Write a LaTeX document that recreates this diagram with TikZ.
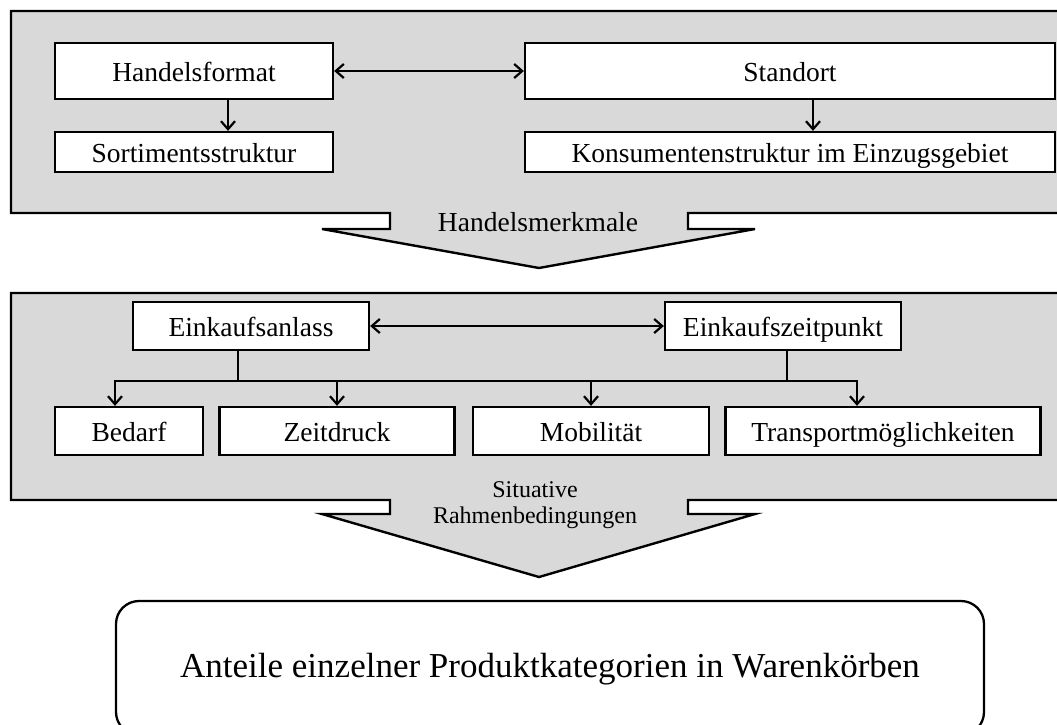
\documentclass[tikz,border=0pt]{standalone}
\usepackage{fontspec}
\setmainfont{Liberation Serif}
\usetikzlibrary{arrows.meta}
\definecolor{panelgray}{HTML}{D9D9D9}
\tikzset{
  box/.style={draw, fill=white, line width=2.3pt, inner sep=0pt,
    text height=23pt, text depth=3pt,
    font=\fontsize{27.5}{30}\selectfont},
  panel/.style={draw, fill=panelgray, line width=2.4pt},
  conn/.style={line width=2.2pt},
  arr/.style={conn, -{Straight Barb[length=8pt,width=14pt]}},
  dblarr/.style={conn, {Straight Barb[length=8pt,width=14pt]}-{Straight Barb[length=8pt,width=14pt]}}
}

\begin{document}
\begin{tikzpicture}[x=1pt, y=-1pt]
	\useasboundingbox (0,0) rectangle (1057,724);
	% Handelsmerkmale
	\draw[panel] (11,11) -- (1080,11) -- (1080,213) -- (688,213) -- (688,229) -- (755,229)
		-- (539,268) -- (322,229) -- (390,229) -- (390,213) -- (11,213) -- cycle;
	\node[box, minimum width=278pt, minimum height=56pt] (hf) at (194,71) {Handelsformat};
	\node[box, minimum width=530pt, minimum height=56pt] (so) at (790,71) {Standort};
	\node[box, minimum width=278pt, minimum height=40pt] (sort) at (194,152) {Sortimentsstruktur};
	\node[box, minimum width=530pt, minimum height=40pt] (kons) at (790,152) {Konsumentenstruktur im Einzugsgebiet};
	\draw[dblarr] (hf.east) -- (so.west);
	\draw[arr] ([xshift=34pt]hf.south) -- ([xshift=34pt]sort.north);
	\draw[arr] ([xshift=23pt]so.south) -- ([xshift=23pt]kons.north);
	\node[font=\fontsize{27.5}{30}\selectfont] (hm) at (538,222) {Handelsmerkmale};
	% Situative Rahmenbedingungen
	\draw[panel] (11,293) -- (1080,293) -- (1080,500) -- (688,500) -- (688,514) -- (755,514)
		-- (539,577) -- (322,514) -- (390,514) -- (390,500) -- (11,500) -- cycle;
	\node[box, minimum width=236pt, minimum height=48pt] (ea) at (251,326) {Einkaufsanlass};
	\node[box, minimum width=236pt, minimum height=48pt] (ez) at (783,326) {Einkaufszeitpunkt};
	\node[box, minimum width=148pt, minimum height=48pt] (bed) at (129,431) {Bedarf};
	\node[box, minimum width=235pt, minimum height=48pt] (zd) at (337,431) {Zeitdruck};
	\node[box, minimum width=236pt, minimum height=48pt] (mob) at (591,431) {Mobilität};
	\node[box, minimum width=315pt, minimum height=48pt] (tr) at (883,431) {Transportmöglichkeiten};
	\draw[dblarr] (ea.east) -- (ez.west);
	\coordinate (busL) at (115,381);
	\coordinate (busR) at (857,381);
	\draw[conn] ([xshift=-13pt]ea.south) -- ([xshift=-13pt]ea.south |- busL);
	\draw[conn] ([xshift=4pt]ez.south) -- ([xshift=4pt]ez.south |- busR);
	\draw[arr] (busR) -- (busL) -- (bed.north -| busL);
	\draw[arr] (busL) -- (busR) -- (tr.north -| busR);
	\draw[arr] (zd.north |- busL) -- (zd.north);
	\draw[arr] (mob.north |- busL) -- (mob.north);
	\node[align=center, font=\fontsize{24}{26}\selectfont] (sr) at (535,505) {Situative\\Rahmenbedingungen};
	% Ergebnis
	\node[box, rounded corners=23pt, minimum width=868pt, minimum height=134pt,
		text height=25pt, text depth=7pt,
		font=\fontsize{35}{38}\selectfont] (wk) at (550,668) {Anteile einzelner Produktkategorien in Warenkörben};
\end{tikzpicture}
\end{document}
